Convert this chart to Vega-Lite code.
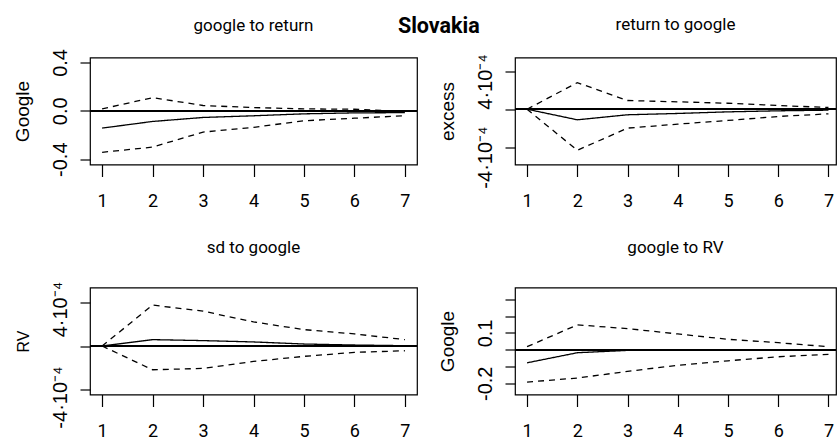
{
  "$schema": "https://vega.github.io/schema/vega-lite/v6.json",
  "background": "white",
  "padding": {"left": 12, "top": 14.5, "right": 0, "bottom": 0},
  "title": {"text": "Slovakia", "font": "Roboto", "fontSize": 21.5, "fontWeight": "bold", "color": "black", "anchor": "middle", "baseline": "alphabetic", "offset": -39, "dx": 14},
  "datasets": {
    "p1": [
      {"h": 1, "s": "irf", "v": -0.143}, {"h": 2, "s": "irf", "v": -0.088}, {"h": 3, "s": "irf", "v": -0.055}, {"h": 4, "s": "irf", "v": -0.041}, {"h": 5, "s": "irf", "v": -0.025}, {"h": 6, "s": "irf", "v": -0.017}, {"h": 7, "s": "irf", "v": -0.015},
      {"h": 1, "s": "upper", "v": 0.016}, {"h": 2, "s": "upper", "v": 0.109}, {"h": 3, "s": "upper", "v": 0.044}, {"h": 4, "s": "upper", "v": 0.027}, {"h": 5, "s": "upper", "v": 0.016}, {"h": 6, "s": "upper", "v": 0.013}, {"h": 7, "s": "upper", "v": -0.005},
      {"h": 1, "s": "lower", "v": -0.343}, {"h": 2, "s": "lower", "v": -0.300}, {"h": 3, "s": "lower", "v": -0.176}, {"h": 4, "s": "lower", "v": -0.137}, {"h": 5, "s": "lower", "v": -0.082}, {"h": 6, "s": "lower", "v": -0.061}, {"h": 7, "s": "lower", "v": -0.041}
    ],
    "p2": [
      {"h": 1, "s": "irf", "v": 0}, {"h": 2, "s": "irf", "v": -0.000112}, {"h": 3, "s": "irf", "v": -0.000059}, {"h": 4, "s": "irf", "v": -0.000045}, {"h": 5, "s": "irf", "v": -0.000028}, {"h": 6, "s": "irf", "v": -0.000017}, {"h": 7, "s": "irf", "v": -0.000010},
      {"h": 1, "s": "upper", "v": 0}, {"h": 2, "s": "upper", "v": 0.000281}, {"h": 3, "s": "upper", "v": 0.000092}, {"h": 4, "s": "upper", "v": 0.000078}, {"h": 5, "s": "upper", "v": 0.000063}, {"h": 6, "s": "upper", "v": 0.000039}, {"h": 7, "s": "upper", "v": 0.000018},
      {"h": 1, "s": "lower", "v": 0}, {"h": 2, "s": "lower", "v": -0.000435}, {"h": 3, "s": "lower", "v": -0.000200}, {"h": 4, "s": "lower", "v": -0.000158}, {"h": 5, "s": "lower", "v": -0.000119}, {"h": 6, "s": "lower", "v": -0.000077}, {"h": 7, "s": "lower", "v": -0.000049}
    ],
    "p3": [
      {"h": 1, "s": "irf", "v": 0}, {"h": 2, "s": "irf", "v": 0.000058}, {"h": 3, "s": "irf", "v": 0.000049}, {"h": 4, "s": "irf", "v": 0.000037}, {"h": 5, "s": "irf", "v": 0.000018}, {"h": 6, "s": "irf", "v": 0.000009}, {"h": 7, "s": "irf", "v": 0.000003},
      {"h": 1, "s": "upper", "v": 0}, {"h": 2, "s": "upper", "v": 0.000372}, {"h": 3, "s": "upper", "v": 0.000317}, {"h": 4, "s": "upper", "v": 0.000219}, {"h": 5, "s": "upper", "v": 0.000149}, {"h": 6, "s": "upper", "v": 0.000110}, {"h": 7, "s": "upper", "v": 0.000058},
      {"h": 1, "s": "lower", "v": 0}, {"h": 2, "s": "lower", "v": -0.000216}, {"h": 3, "s": "lower", "v": -0.000204}, {"h": 4, "s": "lower", "v": -0.000140}, {"h": 5, "s": "lower", "v": -0.000094}, {"h": 6, "s": "lower", "v": -0.000058}, {"h": 7, "s": "lower", "v": -0.000043}
    ],
    "p4": [
      {"h": 1, "s": "irf", "v": -0.078}, {"h": 2, "s": "irf", "v": -0.018}, {"h": 3, "s": "irf", "v": -0.004}, {"h": 4, "s": "irf", "v": -0.002}, {"h": 5, "s": "irf", "v": -0.001}, {"h": 6, "s": "irf", "v": -0.001}, {"h": 7, "s": "irf", "v": 0},
      {"h": 1, "s": "upper", "v": 0.018}, {"h": 2, "s": "upper", "v": 0.148}, {"h": 3, "s": "upper", "v": 0.126}, {"h": 4, "s": "upper", "v": 0.094}, {"h": 5, "s": "upper", "v": 0.062}, {"h": 6, "s": "upper", "v": 0.042}, {"h": 7, "s": "upper", "v": 0.018},
      {"h": 1, "s": "lower", "v": -0.193}, {"h": 2, "s": "lower", "v": -0.169}, {"h": 3, "s": "lower", "v": -0.129}, {"h": 4, "s": "lower", "v": -0.093}, {"h": 5, "s": "lower", "v": -0.066}, {"h": 6, "s": "lower", "v": -0.042}, {"h": 7, "s": "lower", "v": -0.028}
    ]
  },
  "config": {
    "view": {"stroke": "black", "strokeWidth": 1.2},
    "title": {"font": "Roboto", "fontSize": 17, "fontWeight": "normal", "color": "black", "anchor": "middle", "baseline": "alphabetic"},
    "axis": {"domain": false, "grid": false, "tickColor": "black", "tickWidth": 1.2, "labelColor": "black", "titleColor": "black", "labelFlush": false, "labelOverlap": false, "labelBound": false},
    "axisX": {"tickSize": 12, "labelPadding": 30, "labelBaseline": "alphabetic", "labelAlign": "center", "labelFont": "Roboto", "labelFontSize": 18, "labelAngle": 0, "labelOverlap": false},
    "axisY": {"tickSize": 10, "labelAngle": 270, "labelAlign": "center", "labelBaseline": "alphabetic", "labelPadding": 13.7, "labelFont": "Liberation Sans", "labelFontSize": 20, "labelOverlap": false, "titleFont": "Liberation Sans", "titleFontSize": 19, "titleFontWeight": "normal", "titleAngle": 270, "titleX": -62, "titleY": 53.5, "titleAlign": "center", "titleBaseline": "alphabetic"}
  },
  "columns": 2,
  "spacing": {"row": 123, "column": 98},
  "bounds": "flush",
  "concat": [
    {
      "width": 327, "height": 107,
      "title": {"text": "google to return", "offset": 13.7},
      "data": {"name": "p1"},
      "layer": [
        {"mark": {"type": "line", "color": "black", "strokeWidth": 1.3},
         "encoding": {
           "x": {"field": "h", "type": "quantitative", "scale": {"domain": [0.76, 7.24], "nice": false, "zero": false}, "axis": {"values": [1, 2, 3, 4, 5, 6, 7], "title": null, "labelOverlap": false}},
           "y": {"field": "v", "type": "quantitative", "scale": {"domain": [-0.444, 0.441], "nice": false, "zero": false}, "axis": {"title": "Google", "labelOverlap": false, "values": [-0.4, -0.2, 0, 0.2, 0.4], "labelExpr": "datum.value > 0.3 ? '0.4' : (datum.value < -0.3 ? '-0.4' : (abs(datum.value) < 0.01 ? '0.0' : ''))"}},
           "strokeDash": {"field": "s", "type": "nominal", "scale": {"domain": ["irf", "upper", "lower"], "range": [[1, 0], [6, 5], [6, 5]]}, "legend": null}
         }},
        {"mark": {"type": "rule", "color": "black", "strokeWidth": 1.2}, "encoding": {"y": {"datum": 0, "type": "quantitative"}}}
      ]
    },
    {
      "width": 321, "height": 107,
      "title": {"text": "return to google", "offset": 19.7},
      "data": {"name": "p2"},
      "layer": [
        {"mark": {"type": "line", "color": "black", "strokeWidth": 1.3},
         "encoding": {
           "x": {"field": "h", "type": "quantitative", "scale": {"domain": [0.76, 7.15], "nice": false, "zero": false}, "axis": {"values": [1, 2, 3, 4, 5, 6, 7], "title": null, "labelOverlap": false}},
           "y": {"field": "v", "type": "quantitative", "scale": {"domain": [-0.000585, 0.000547], "nice": false, "zero": false}, "axis": {"title": "excess", "labelOverlap": false, "values": [-0.0004, -0.0002, 0, 0.0002, 0.0004], "labelOffset": 10, "labelExpr": "datum.value > 0.0003 ? '4·10⁻⁴' : (datum.value < -0.0003 ? '-4·10⁻⁴' : '')"}},
           "strokeDash": {"field": "s", "type": "nominal", "scale": {"domain": ["irf", "upper", "lower"], "range": [[1, 0], [6, 5], [6, 5]]}, "legend": null}
         }},
        {"mark": {"type": "rule", "color": "black", "strokeWidth": 1.2}, "encoding": {"y": {"datum": 0, "type": "quantitative"}}}
      ]
    },
    {
      "width": 327, "height": 107,
      "title": {"text": "sd to google", "offset": 24.4},
      "data": {"name": "p3"},
      "layer": [
        {"mark": {"type": "line", "color": "black", "strokeWidth": 1.3},
         "encoding": {
           "x": {"field": "h", "type": "quantitative", "scale": {"domain": [0.76, 7.24], "nice": false, "zero": false}, "axis": {"values": [1, 2, 3, 4, 5, 6, 7], "title": null, "labelOverlap": false}},
           "y": {"field": "v", "type": "quantitative", "scale": {"domain": [-0.000441, 0.000532], "nice": false, "zero": false}, "axis": {"title": "RV", "titleFontSize": 16, "labelOverlap": false, "values": [-0.0004, -0.0002, 0, 0.0002, 0.0004], "labelOffset": 7, "labelExpr": "datum.value > 0.0003 ? '4·10⁻⁴' : (datum.value < -0.0003 ? '-4·10⁻⁴' : '')"}},
           "strokeDash": {"field": "s", "type": "nominal", "scale": {"domain": ["irf", "upper", "lower"], "range": [[1, 0], [6, 5], [6, 5]]}, "legend": null}
         }},
        {"mark": {"type": "rule", "color": "black", "strokeWidth": 1.2}, "encoding": {"y": {"datum": 0, "type": "quantitative"}}}
      ]
    },
    {
      "width": 321, "height": 107,
      "title": {"text": "google to RV", "offset": 30.7},
      "data": {"name": "p4"},
      "resolve": {"axis": {"y": "independent"}},
      "layer": [
        {"mark": {"type": "line", "color": "black", "strokeWidth": 1.3},
         "encoding": {
           "x": {"field": "h", "type": "quantitative", "scale": {"domain": [0.76, 7.15], "nice": false, "zero": false}, "axis": {"values": [1, 2, 3, 4, 5, 6, 7], "title": null, "labelOverlap": false}},
           "y": {"field": "v", "type": "quantitative", "scale": {"domain": [-0.267, 0.371], "nice": false, "zero": false}, "axis": {"orient": "left", "title": "Google", "labelOverlap": false, "values": [-0.2, 0.1], "labelExpr": "datum.value < 0 ? '-0.2' : '0.1'"}},
           "strokeDash": {"field": "s", "type": "nominal", "scale": {"domain": ["irf", "upper", "lower"], "range": [[1, 0], [6, 5], [6, 5]]}, "legend": null}
         }},
        {"mark": {"type": "rule", "color": "black", "strokeWidth": 1.2}, "encoding": {"y": {"datum": 0, "type": "quantitative", "axis": {"orient": "left", "title": null, "labels": false, "values": [-0.1, 0, 0.2, 0.3]}}}}
      ]
    }
  ]
}
